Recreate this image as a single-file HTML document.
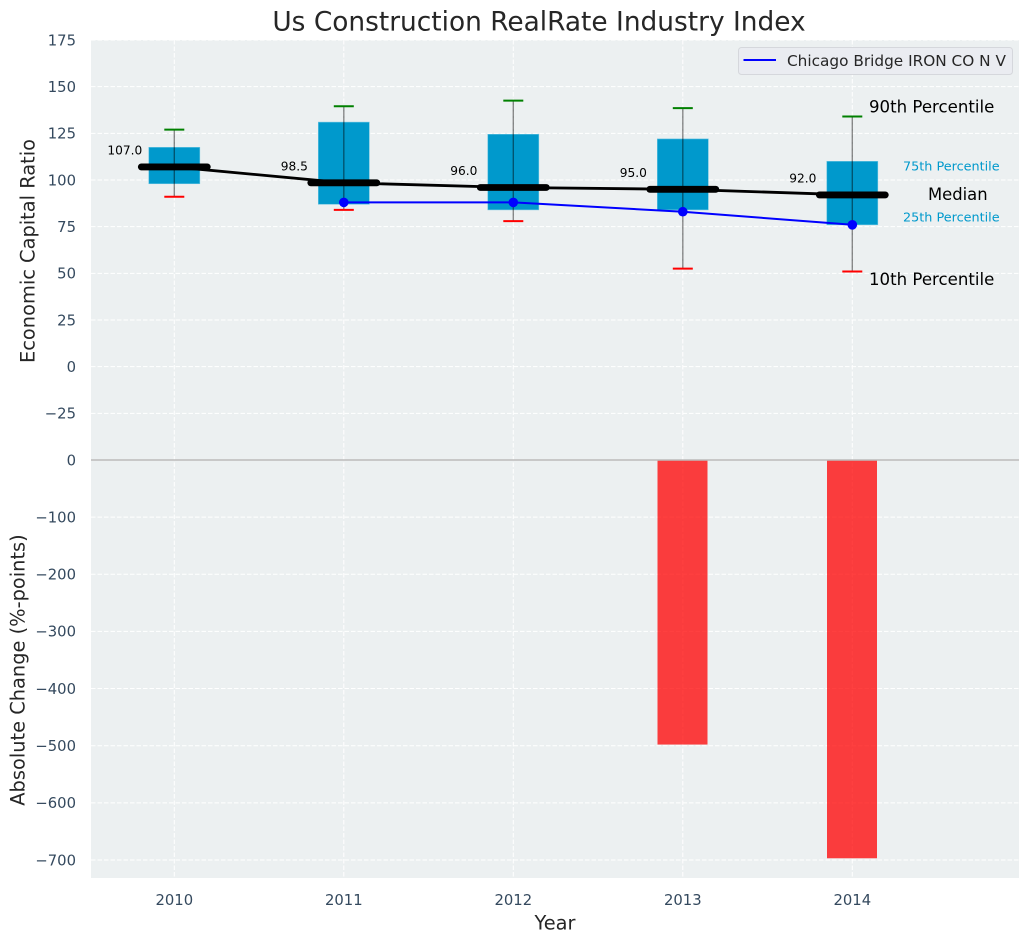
<!DOCTYPE html>
<html lang="en">
<head>
<meta charset="utf-8">
<title>Us Construction RealRate Industry Index</title>
<style>
html,body{margin:0;padding:0;background:#fff;width:1029px;height:942px;overflow:hidden}
svg{display:block}
text{font-family:"DejaVu Sans","Liberation Sans",sans-serif}
</style>
</head>
<body>
<svg id="chart" xmlns="http://www.w3.org/2000/svg" width="1029" height="942" viewBox="0 0 1029 942"></svg>
<script>
const years = [2010, 2011, 2012, 2013, 2014];
const p90 = [127, 139.5, 142.5, 138.5, 134];
const p75 = [117.5, 131, 124.5, 122, 110];
const median = [107, 98.5, 96, 95, 92];
const p25 = [98, 87, 84, 84, 76];
const p10 = [91, 84, 78, 52.5, 51];
const medianLabels = ["107.0", "98.5", "96.0", "95.0", "92.0"];
const companyYears = [2011, 2012, 2013, 2014];
const companyValues = [88, 88, 83, 76];
const changeYears = [2013, 2014];
const changeValues = [-498, -697];
const upperTicks = [175, 150, 125, 100, 75, 50, 25, 0, -25];
const lowerTicks = [0, -100, -200, -300, -400, -500, -600, -700];

const svg = document.getElementById('chart');
const NS = 'http://www.w3.org/2000/svg';
const plotLeft = 91, plotRight = 1019, upperTop = 40, split = 460, lowerBottom = 878;
const xScale = v => 174.3 + (v - 2010) * 169.5;
const yUpper = v => upperTop + (175 - v) * (split - upperTop) / 225;
const yLower = v => split - v * 0.5714;

function make(tag, attrs, text) {
  const el = document.createElementNS(NS, tag);
  for (const k in attrs) el.setAttribute(k, attrs[k]);
  if (text !== undefined) el.textContent = text;
  svg.appendChild(el);
  return el;
}
function line(x1, y1, x2, y2, stroke, width, extra) {
  return make('line', Object.assign({x1, y1, x2, y2, stroke, 'stroke-width': width}, extra || {}));
}
function label(x, y, str, size, fill, anchor, extra) {
  return make('text', Object.assign({x, y, 'font-size': size, fill, 'text-anchor': anchor || 'start', 'dominant-baseline': 'central'}, extra || {}), str);
}
const fmt = v => String(v).replace('-', '\u2212');
let el;

el = make('rect', {x: plotLeft, y: upperTop, width: plotRight - plotLeft, height: split - upperTop, fill: '#ecf0f1'});


el = make('rect', {x: plotLeft, y: split, width: plotRight - plotLeft, height: lowerBottom - split, fill: '#ecf0f1'});



const dash = {'stroke-dasharray': '4.5 2'};
upperTicks.forEach(t => {
  el = line(plotLeft, yUpper(t), plotRight, yUpper(t), '#fff', 1, dash);
  
  
  el = label(76, yUpper(t) + 0.8, fmt(t), 14.8, '#34495e', 'end');
  
  
});
lowerTicks.forEach(t => {
  if (t !== 0) {
    el = line(plotLeft, yLower(t), plotRight, yLower(t), '#fff', 1, dash);
    
    
    el = label(76, yLower(t) + 0.8, fmt(t), 14.8, '#34495e', 'end');
    
    
  }
});
years.forEach(y => {
  el = line(xScale(y), upperTop, xScale(y), lowerBottom, '#fff', 1, dash);
  
  
  el = label(xScale(y), 900.5, String(y), 14.8, '#34495e', 'middle');
  
  
});
el = label(76, split + 0.8, '0', 14.8, '#34495e', 'end');



changeValues.forEach((v, i) => {
  const x = xScale(changeYears[i]);
  el = make('rect', {x: x - 25.3, y: yLower(0), width: 50, height: yLower(v) - yLower(0), fill: '#ff0000', 'fill-opacity': 0.75});
  
  
});
el = line(plotLeft, split, plotRight, split, '#bbbbbb', 1.4);



years.forEach((y, i) => {
  const x = xScale(y);
  el = make('rect', {x: x - 25.5, y: yUpper(p75[i]), width: 51, height: yUpper(p25[i]) - yUpper(p75[i]), fill: '#0099cc', stroke: '#66c2e0', 'stroke-width': 0.6});
  
  
  el = line(x, yUpper(p90[i]), x, yUpper(p10[i]), '#000', 1.4, {'stroke-opacity': 0.45});
  
  
  el = line(x - 10, yUpper(p90[i]), x + 10, yUpper(p90[i]), '#008000', 2);
  
  
  el = line(x - 10, yUpper(p10[i]), x + 10, yUpper(p10[i]), '#ff0000', 2);
  
  
});

el = make('polyline', {points: years.map((y, i) => xScale(y) + ',' + yUpper(median[i])).join(' '), fill: 'none', stroke: '#000', 'stroke-width': 2.8});



years.forEach((y, i) => {
  const x = xScale(y);
  el = line(x - 33, yUpper(median[i]), x + 33, yUpper(median[i]), '#000', 6.8, {'stroke-linecap': 'round'});
  
  
  el = label(x - 49.5, yUpper(median[i]) - 16.5, medianLabels[i], 12.2, '#000', 'middle');
  
  
});

el = make('polyline', {points: companyYears.map((y, i) => xScale(y) + ',' + yUpper(companyValues[i])).join(' '), fill: 'none', stroke: '#0000ff', 'stroke-width': 2});


companyYears.forEach((y, i) => {
  el = make('circle', {cx: xScale(y), cy: yUpper(companyValues[i]), r: 4.8, fill: '#0000ff'});
  
  
});

el = label(869, 107, '90th Percentile', 16.6, '#000');


el = label(869, 279.5, '10th Percentile', 16.6, '#000');


el = label(903, 167, '75th Percentile', 12.8, '#0099cc');


el = label(903, 218, '25th Percentile', 12.8, '#0099cc');


el = label(928, 194.5, 'Median', 16.4, '#000');



el = make('rect', {x: 738.5, y: 47.5, width: 274, height: 27, rx: 3, fill: '#eaecf1', stroke: '#d5d7dc', 'stroke-width': 1});


el = line(743.5, 60, 776, 60, '#0000ff', 2);


el = label(787, 61, 'Chicago Bridge IRON CO N V', 15.3, '#262626');



el = label(539, 22, 'Us Construction RealRate Industry Index', 26.4, '#262626', 'middle');


el = label(555, 923, 'Year', 19.4, '#262626', 'middle');


el = label(28, 251, 'Economic Capital Ratio', 19.4, '#262626', 'middle', {transform: 'rotate(-90 28 251)'});


el = label(18, 670, 'Absolute Change (%-points)', 19.4, '#262626', 'middle', {transform: 'rotate(-90 18 670)'});


</script>
</body>
</html>
